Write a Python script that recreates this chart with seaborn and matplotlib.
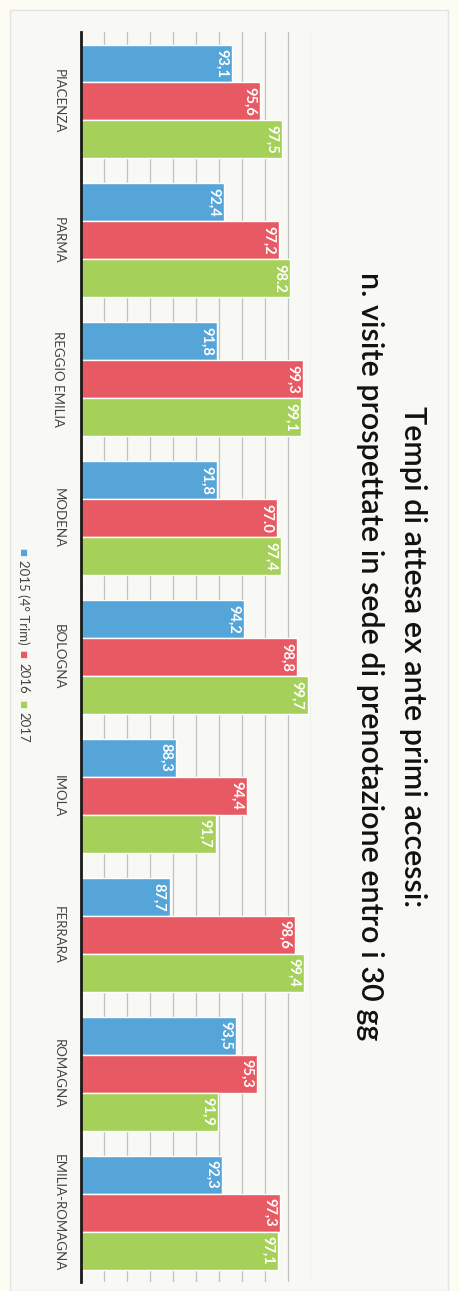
import matplotlib
matplotlib.use("Agg")
import matplotlib.pyplot as plt
import seaborn as sns
import pandas as pd
from matplotlib.patches import Rectangle

# ---- data ----
categories = ["PIACENZA", "PARMA", "REGGIO EMILIA", "MODENA", "BOLOGNA",
              "IMOLA", "FERRARA", "ROMAGNA", "EMILIA-ROMAGNA"]
series = ["2015 (4° Trim)", "2016", "2017"]
v2015 = [93.1, 92.4, 91.8, 91.8, 94.2, 88.3, 87.7, 93.5, 92.3]
v2016 = [95.6, 97.2, 99.3, 97.0, 98.8, 94.4, 98.6, 95.3, 97.3]
v2017 = [97.5, 98.2, 99.1, 97.4, 99.7, 91.7, 99.4, 91.9, 97.1]
labels2015 = ["93,1", "92,4", "91,8", "91,8", "94,2", "88,3", "87,7", "93,5", "92,3"]
labels2016 = ["95,6", "97,2", "99,3", "97.0", "98,8", "94,4", "98,6", "95,3", "97,3"]
labels2017 = ["97,5", "98.2", "99,1", "97,4", "99,7", "91,7", "99,4", "91,9", "97,1"]
title_line1 = "Tempi di attesa ex ante primi accessi:"
title_line2 = "n. visite prospettate in sede di prenotazione entro i 30 gg"
x_min, x_max, x_step = 80, 100, 2

colors = ["#55a5d9", "#e85a63", "#a5d15a"]

sns.set_theme(style="white")
plt.rcParams["font.family"] = ["Lato", "DejaVu Sans"]

df = pd.DataFrame({
    "cat": categories * 3,
    "serie": [series[0]] * 9 + [series[1]] * 9 + [series[2]] * 9,
    "val": v2015 + v2016 + v2017,
})

W, H = 460, 1291
fig = plt.figure(figsize=(W / 100, H / 100), dpi=100)
fig.patch.set_facecolor("#fdfcf2")
fig.patches.append(Rectangle((10 / W, 0), 438 / W, 1 - 10 / H, transform=fig.transFigure,
                             facecolor="#f8f8f4", edgecolor="#e2e4e6", lw=1, zorder=-5))

ax = fig.add_axes([81 / W, 9 / H, 230 / W, 1250 / H])
ax.set_facecolor("none")
sns.barplot(data=df, y="cat", x="val", hue="serie", hue_order=series,
            order=categories, palette=colors, orient="h", ax=ax,
            width=0.82, edgecolor="white", linewidth=1.0, legend=False,
            saturation=1, zorder=3)

ax.set_xlim(x_min, x_max)
ax.set_xticks(range(x_min + x_step, x_max + 1, x_step))
ax.set_xticklabels([])
ax.grid(axis="x", color="#bfc1c4", lw=0.9, zorder=0)
ax.grid(axis="y", visible=False)
ax.set_axisbelow(True)
for s in ["top", "right", "bottom"]:
    ax.spines[s].set_visible(False)
ax.spines["left"].set_color("#1a1a1a")
ax.spines["left"].set_linewidth(2)
ax.spines["left"].set_zorder(6)
ax.set_xlabel("")
ax.set_ylabel("")
ax.tick_params(axis="y", length=0, pad=12, labelsize=9.5, labelcolor="#444444")
ax.tick_params(axis="x", length=0)
plt.setp(ax.get_yticklabels(), rotation=-90, va="center", ha="right")

for cont, labs in zip(ax.containers, [labels2015, labels2016, labels2017]):
    for p, lab in zip(cont.patches, labs):
        ax.annotate(lab, xy=(p.get_width(), p.get_y() + p.get_height() / 2),
                    xytext=(-2.5, 0), textcoords="offset points",
                    rotation=-90, ha="right", va="center",
                    color="white", fontsize=10.5, fontweight="bold", zorder=5)

# title (rotated, on the right)
fig.text(413 / W, 1 - 657 / H, title_line1, rotation=-90, ha="center", va="center",
         fontsize=22, color="#111111", fontweight="semibold")
fig.text(370 / W, 1 - 656 / H, title_line2, rotation=-90, ha="center", va="center",
         fontsize=22, color="#111111", fontweight="semibold")

# legend (rotated, on the left)
leg_x = 23 / W
entries = [(552, 560), (654, 663), (704, 712)]
for (sq_y, tx_y), name, c in zip(entries, series, colors):
    fig.text(leg_x, 1 - sq_y / H, "■", rotation=-90, ha="center", va="center",
             fontsize=6, color=c, family=["DejaVu Sans"])
    fig.text(leg_x, 1 - tx_y / H, name, rotation=-90, ha="center", va="top",
             fontsize=9.5, color="#444444")

fig.savefig("out.png", dpi=100, facecolor=fig.get_facecolor())
